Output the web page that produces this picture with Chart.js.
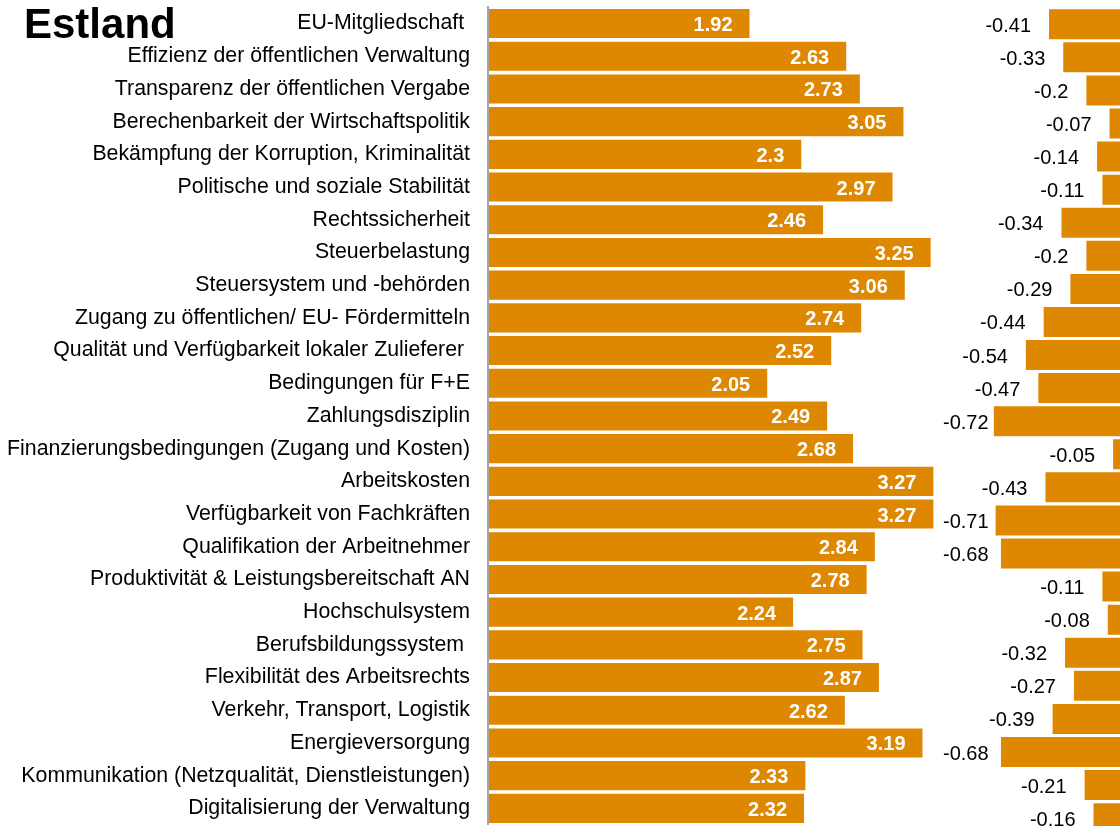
<!DOCTYPE html>
<html>
<head>
<meta charset="utf-8">
<script src="https://cdn.jsdelivr.net/npm/chart.js@4/dist/chart.umd.min.js"></script>
<style>
  html, body { margin: 0; padding: 0; background: #ffffff; overflow: hidden; width: 1120px; height: 826px; }
  #title { position: absolute; left: 24px; top: 3px; font: bold 42px Arial, "Liberation Sans", sans-serif; line-height: 42px; color: #000; }
  #wrapA { position: absolute; left: 0; top: 0; width: 1120px; height: 826px; }
  #wrapB { position: absolute; left: 930px; top: 0; width: 192px; height: 836px; }
</style>
</head>
<body>
<div id="wrapA"><canvas id="chartA"></canvas></div>
<div id="wrapB"><canvas id="chartB"></canvas></div>
<div id="title">Estland</div>
<script>
const categories = [
  "EU-Mitgliedschaft ",
  "Effizienz der öffentlichen Verwaltung",
  "Transparenz der öffentlichen Vergabe",
  "Berechenbarkeit der Wirtschaftspolitik",
  "Bekämpfung der Korruption, Kriminalität",
  "Politische und soziale Stabilität",
  "Rechtssicherheit",
  "Steuerbelastung",
  "Steuersystem und -behörden",
  "Zugang zu öffentlichen/ EU- Fördermitteln",
  "Qualität und Verfügbarkeit lokaler Zulieferer ",
  "Bedingungen für F+E",
  "Zahlungsdisziplin",
  "Finanzierungsbedingungen (Zugang und Kosten)",
  "Arbeitskosten",
  "Verfügbarkeit von Fachkräften",
  "Qualifikation der Arbeitnehmer",
  "Produktivität & Leistungsbereitschaft AN",
  "Hochschulsystem",
  "Berufsbildungssystem ",
  "Flexibilität des Arbeitsrechts",
  "Verkehr, Transport, Logistik",
  "Energieversorgung",
  "Kommunikation (Netzqualität, Dienstleistungen)",
  "Digitalisierung der Verwaltung"
];
const scores = [1.92, 2.63, 2.73, 3.05, 2.3, 2.97, 2.46, 3.25, 3.06, 2.74, 2.52, 2.05, 2.49, 2.68, 3.27, 3.27, 2.84, 2.78, 2.24, 2.75, 2.87, 2.62, 3.19, 2.33, 2.32];
const changes = [-0.41, -0.33, -0.2, -0.07, -0.14, -0.11, -0.34, -0.2, -0.29, -0.44, -0.54, -0.47, -0.72, -0.05, -0.43, -0.71, -0.68, -0.11, -0.08, -0.32, -0.27, -0.39, -0.68, -0.21, -0.16];

const FONT = 'Arial, "Liberation Sans", sans-serif';
const ORANGE = '#DE8700';

const leftLabels = {
  id: 'leftLabels',
  afterDatasetsDraw(chart) {
    const ctx = chart.ctx;
    const meta = chart.getDatasetMeta(0);
    ctx.save();
    ctx.font = 'bold 20px ' + FONT;
    ctx.fillStyle = '#ffffff';
    ctx.textAlign = 'right';
    ctx.textBaseline = 'middle';
    meta.data.forEach((el, i) => {
      ctx.fillText(String(scores[i]), el.x - 17, el.y + 2);
    });
    ctx.restore();
  }
};

const rightLabels = {
  id: 'rightLabels',
  afterDatasetsDraw(chart) {
    const ctx = chart.ctx;
    const meta = chart.getDatasetMeta(0);
    const area = chart.chartArea;
    ctx.save();
    ctx.font = '20px ' + FONT;
    ctx.fillStyle = '#000000';
    ctx.textAlign = 'left';
    ctx.textBaseline = 'middle';
    meta.data.forEach((el, i) => {
      const txt = String(changes[i]);
      const w = ctx.measureText(txt).width;
      let x = el.x - 18 - w;
      if (x < area.left - 1) x = area.left - 1;
      ctx.fillText(txt, x, el.y + 2);
    });
    ctx.restore();
  }
};

new Chart(document.getElementById('chartA'), {
  type: 'bar',
  data: {
    labels: categories,
    datasets: [{
      data: scores,
      backgroundColor: ORANGE,
      borderWidth: 0,
      categoryPercentage: 1.0,
      barPercentage: 0.89
    }]
  },
  options: {
    indexAxis: 'y',
    responsive: true,
    maintainAspectRatio: false,
    animation: false,
    layout: { padding: { top: 7.2, bottom: 1.3, left: 0, right: 0 } },
    plugins: { legend: { display: false }, tooltip: { enabled: false } },
    scales: {
      x: {
        display: false,
        min: 0,
        max: 4.64
      },
      y: {
        grid: { display: false, drawTicks: false },
        border: { display: true, color: '#A6A6A6', width: 2, z: 1 },
        ticks: {
          color: '#000000',
          font: { family: FONT, size: 21.3 },
          padding: 18,
          autoSkip: false
        },
        afterFit(scale) {
          scale.width = 488;
          scale.paddingTop = 0;
          scale.paddingBottom = 0;
        }
      }
    }
  },
  plugins: [leftLabels]
});

new Chart(document.getElementById('chartB'), {
  type: 'bar',
  data: {
    labels: categories,
    datasets: [{
      data: changes,
      backgroundColor: ORANGE,
      borderWidth: 0,
      categoryPercentage: 1.0,
      barPercentage: 0.907
    }]
  },
  options: {
    indexAxis: 'y',
    responsive: true,
    maintainAspectRatio: false,
    animation: false,
    layout: { padding: { top: 7.7, bottom: 1.3, left: 14, right: 0 } },
    plugins: { legend: { display: false }, tooltip: { enabled: false } },
    scales: {
      x: { display: false, min: -1, max: 0 },
      y: { display: false }
    }
  },
  plugins: [rightLabels]
});
</script>
</body>
</html>
